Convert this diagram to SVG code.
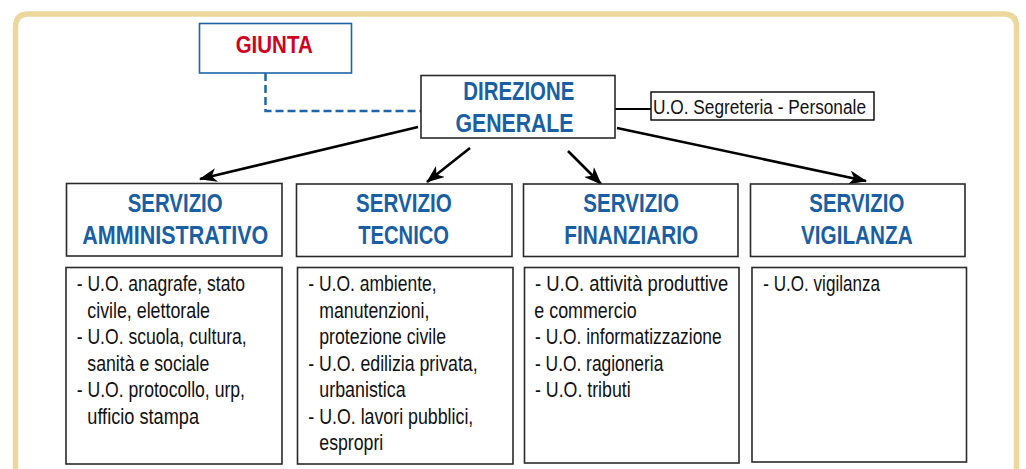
<svg xmlns="http://www.w3.org/2000/svg" width="1026" height="469" viewBox="0 0 1026 469">
<defs>
<style>
.t{font-family:"Liberation Sans Narrow","Arial Narrow","Liberation Sans",sans-serif;}
.h{font-weight:bold;font-size:26.5px;fill:#1a5fa3;}
.c{font-size:21.5px;fill:#111;}
.box{fill:#fff;stroke:#2a2a2a;stroke-width:1.6;}
.arr{stroke:#000;stroke-width:2.6;fill:none;marker-end:url(#ah);}
</style>
<marker id="ah" markerUnits="userSpaceOnUse" viewBox="0 0 18 14" refX="17" refY="7" markerWidth="18" markerHeight="14" orient="auto">
<path d="M0,0 L18,7 L0,14 L5,7 Z" fill="#000"/>
</marker>
</defs>
<rect x="0" y="0" width="1026" height="469" fill="#fff"/>
<path d="M15.5,480 L15.5,27 Q15.5,14 28,14 L1004,14 Q1016.5,14 1016.5,27 L1016.5,480" fill="none" stroke="#ecd79c" stroke-width="5.5"/>

<g id="connectors">
<path d="M265.5,73 L265.5,111 L421,111" fill="none" stroke="#1d64a8" stroke-width="2.5" stroke-dasharray="8,4"/>
<line x1="615" y1="109" x2="651" y2="109" stroke="#000" stroke-width="2.2"/>
<line class="arr" x1="418" y1="127" x2="200" y2="179"/>
<line class="arr" x1="470" y1="148" x2="427" y2="182"/>
<line class="arr" x1="568" y1="151" x2="601" y2="184"/>
<line class="arr" x1="617" y1="128" x2="866" y2="181"/>
</g>

<g id="giunta">
<rect x="199.5" y="23.5" width="152" height="49.5" fill="#fff" stroke="#1d64a8" stroke-width="1.6"/>
<text class="t" x="235.7" y="53" font-size="24.5" font-weight="bold" fill="#d2001f" textLength="77" lengthAdjust="spacingAndGlyphs">GIUNTA</text>
</g>

<g id="direzione">
<rect x="421" y="75.5" width="194" height="62.5" class="box"/>
<text class="t h" x="463.3" y="99.5" font-size="25" textLength="111" lengthAdjust="spacingAndGlyphs">DIREZIONE</text>
<text class="t h" x="455.5" y="132" font-size="25" textLength="118" lengthAdjust="spacingAndGlyphs">GENERALE</text>
</g>

<g id="segreteria">
<rect x="651" y="92" width="223" height="28" fill="#fff" stroke="#000" stroke-width="1.4"/>
<text class="t" x="653" y="114" font-size="20" fill="#111" textLength="213" lengthAdjust="spacingAndGlyphs">U.O. Segreteria - Personale</text>
</g>

<g id="serv-amm">
<rect x="66.5" y="183.5" width="215.5" height="72.5" class="box"/>
<text class="t h" x="127.7" y="212" textLength="95" lengthAdjust="spacingAndGlyphs">SERVIZIO</text>
<text class="t h" x="82.3" y="244" textLength="186" lengthAdjust="spacingAndGlyphs">AMMINISTRATIVO</text>
</g>
<g id="serv-tec">
<rect x="296.5" y="184" width="215.5" height="72.5" class="box"/>
<text class="t h" x="356" y="212" textLength="95.7" lengthAdjust="spacingAndGlyphs">SERVIZIO</text>
<text class="t h" x="358.3" y="244" textLength="90.7" lengthAdjust="spacingAndGlyphs">TECNICO</text>
</g>
<g id="serv-fin">
<rect x="523.5" y="184" width="214.5" height="72.5" class="box"/>
<text class="t h" x="583.3" y="212" textLength="95.7" lengthAdjust="spacingAndGlyphs">SERVIZIO</text>
<text class="t h" x="564.3" y="244" textLength="134" lengthAdjust="spacingAndGlyphs">FINANZIARIO</text>
</g>
<g id="serv-vig">
<rect x="750.5" y="184" width="214.5" height="72.5" class="box"/>
<text class="t h" x="809.3" y="212" textLength="95" lengthAdjust="spacingAndGlyphs">SERVIZIO</text>
<text class="t h" x="801" y="244" textLength="111.7" lengthAdjust="spacingAndGlyphs">VIGILANZA</text>
</g>

<g id="uo-amm">
<rect x="66" y="267.5" width="216" height="196.5" class="box"/>
<text class="t c" x="76.7" y="291" textLength="168.3" lengthAdjust="spacingAndGlyphs">- U.O. anagrafe, stato</text>
<text class="t c" x="87.3" y="317.5" textLength="122.7" lengthAdjust="spacingAndGlyphs">civile, elettorale</text>
<text class="t c" x="76.7" y="344" textLength="170" lengthAdjust="spacingAndGlyphs">- U.O. scuola, cultura,</text>
<text class="t c" x="87.3" y="370.5" textLength="122" lengthAdjust="spacingAndGlyphs">sanità e sociale</text>
<text class="t c" x="76.7" y="397" textLength="168.3" lengthAdjust="spacingAndGlyphs">- U.O. protocollo, urp,</text>
<text class="t c" x="87.3" y="423.5" textLength="111.7" lengthAdjust="spacingAndGlyphs">ufficio stampa</text>
</g>
<g id="uo-tec">
<rect x="297.5" y="267.5" width="215.5" height="196.5" class="box"/>
<text class="t c" x="308.3" y="291" textLength="128.3" lengthAdjust="spacingAndGlyphs">- U.O. ambiente,</text>
<text class="t c" x="319.3" y="317.5" textLength="110" lengthAdjust="spacingAndGlyphs">manutenzioni,</text>
<text class="t c" x="319.3" y="344" textLength="126.7" lengthAdjust="spacingAndGlyphs">protezione civile</text>
<text class="t c" x="308.3" y="370.5" textLength="169.3" lengthAdjust="spacingAndGlyphs">- U.O. edilizia privata,</text>
<text class="t c" x="319.3" y="397" textLength="86.3" lengthAdjust="spacingAndGlyphs">urbanistica</text>
<text class="t c" x="308.3" y="423.5" textLength="165" lengthAdjust="spacingAndGlyphs">- U.O. lavori pubblici,</text>
<text class="t c" x="319.3" y="450" textLength="64" lengthAdjust="spacingAndGlyphs">espropri</text>
</g>
<g id="uo-fin">
<rect x="524.5" y="267.5" width="214.5" height="195.5" class="box"/>
<text class="t c" x="535" y="291" textLength="193.3" lengthAdjust="spacingAndGlyphs">- U.O. attività produttive</text>
<text class="t c" x="534.3" y="317.5" textLength="102.3" lengthAdjust="spacingAndGlyphs">e commercio</text>
<text class="t c" x="535" y="344" textLength="186.7" lengthAdjust="spacingAndGlyphs">- U.O. informatizzazione</text>
<text class="t c" x="535" y="370.5" textLength="128.3" lengthAdjust="spacingAndGlyphs">- U.O. ragioneria</text>
<text class="t c" x="535" y="397" textLength="95.7" lengthAdjust="spacingAndGlyphs">- U.O. tributi</text>
</g>
<g id="uo-vig">
<rect x="752" y="267.5" width="214.5" height="194.5" class="box"/>
<text class="t c" x="763.3" y="291" textLength="116.7" lengthAdjust="spacingAndGlyphs">- U.O. vigilanza</text>
</g>
</svg>
